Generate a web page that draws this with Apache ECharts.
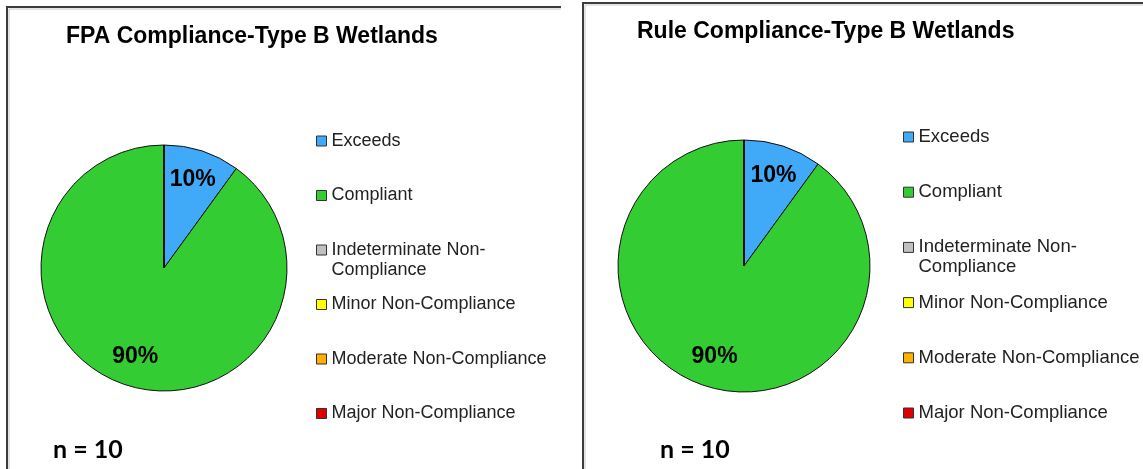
<!DOCTYPE html>
<html>
<head>
<meta charset="utf-8">
<script src="https://cdn.jsdelivr.net/npm/echarts@6/dist/echarts.min.js"></script>
<style>
  html, body { margin: 0; padding: 0; background: #fff; }
  #chart { width: 1143px; height: 469px; }
</style>
</head>
<body>
<div id="chart"></div>
<script>
// categories + values (counts out of n = 10)
const categories = ['Exceeds', 'Compliant', 'Indeterminate Non-Compliance', 'Minor Non-Compliance', 'Moderate Non-Compliance', 'Major Non-Compliance'];
const legendLabels = ['Exceeds', 'Compliant', 'Indeterminate Non-\nCompliance', 'Minor Non-Compliance', 'Moderate Non-Compliance', 'Major Non-Compliance'];
const colors = ['#40a9f8', '#33cc33', '#c0c0c0', '#ffff00', '#ffb000', '#e00000'];
const fpaValues = [1, 9, 0, 0, 0, 0];
const ruleValues = [1, 9, 0, 0, 0, 0];
const chartTitles = ['FPA Compliance-Type B Wetlands', 'Rule Compliance-Type B Wetlands'];
const sampleSizes = [10, 10];

// layout of the two panels
const panels = [
  { values: fpaValues, center: [164, 268], r: 123, titleX: 66, titleY: 25, legX: 316, legY: 141, legStep: 54.5, legFont: 18, nX: 53, box: [7, 7, 561] },
  { values: ruleValues, center: [744, 266], r: 126, titleX: 637, titleY: 20, legX: 903, legY: 137, legStep: 55.2, legFont: 18.5, nX: 660, box: [583, 3, 1143] }
];

const FONT = '"Liberation Sans", Arial, sans-serif';

function pctLabel(p){
  return p.value ? Math.round(p.percent) + '%' : '';
}

const titles = [], legends = [], series = [], graphics = [];

panels.forEach(function(p, k){
  titles.push({
    text: chartTitles[k],
    left: p.titleX,
    top: p.titleY,
    padding: 0,
    textStyle: { fontFamily: FONT, fontWeight: 'bold', fontSize: 23, color: '#000' }
  });

  // one legend per entry so the symbols keep an even step like the original
  categories.forEach(function(name, i){
    const wrapped = legendLabels[i].indexOf('\n') >= 0;
    legends.push({
      data: [name],
      orient: 'vertical',
      left: p.legX,
      top: p.legY + i * p.legStep - (wrapped ? 30 : 10),
      padding: 0,
      icon: 'rect',
      itemWidth: 10,
      itemHeight: 10,
      selectedMode: false,
      itemStyle: { borderColor: '#333', borderWidth: 1 },
      formatter: function(){ return wrapped ? '\n' + legendLabels[i] : legendLabels[i]; },
      textStyle: { fontFamily: FONT, fontSize: p.legFont, color: '#222', lineHeight: 20 }
    });
  });

  const data = categories.map(function(name, i){
    return { name: name, value: p.values[i], itemStyle: { color: colors[i] } };
  });

  series.push({
    type: 'pie',
    center: p.center,
    radius: p.r,
    startAngle: 90,
    clockwise: true,
    label: { show: false },
    labelLine: { show: false },
    emphasis: { disabled: true },
    itemStyle: { borderColor: '#111', borderWidth: 1 },
    data: data
  });
  // transparent ring only used to place the percentage labels further out
  series.push({
    type: 'pie',
    center: p.center,
    radius: [p.r * 0.464, p.r],
    startAngle: 90,
    clockwise: true,
    silent: true,
    emphasis: { disabled: true },
    itemStyle: { color: 'rgba(0,0,0,0)', borderWidth: 0 },
    labelLine: { show: false },
    label: {
      show: true,
      position: 'inside',
      formatter: pctLabel,
      fontFamily: FONT,
      fontWeight: 'bold',
      fontSize: 23,
      color: '#000'
    },
    data: categories.map(function(name, i){ return { name: name, value: p.values[i] }; })
  });

  const b = p.box;
  graphics.push({
    type: 'polyline', silent: true,
    shape: { points: [[b[0] + 2, 469], [b[0] + 2, b[1] + 2], [b[2], b[1] + 2]] },
    style: { stroke: '#c8c8c8', lineWidth: 1, fill: null }
  });
  graphics.push({
    type: 'polyline', silent: true,
    shape: { points: [[b[0], 469], [b[0], b[1]], [b[2], b[1]]] },
    style: { stroke: '#3c3c3c', lineWidth: 2, fill: null }
  });
  graphics.push({
    type: 'text', silent: true,
    x: p.nX, y: 450,
    style: { text: 'n = ' + sampleSizes[k], font: 'bold 25px Lato, sans-serif', fill: '#000', verticalAlign: 'middle' }
  });
});

const chart = echarts.init(document.getElementById('chart'));
chart.setOption({
  animation: false,
  backgroundColor: '#fff',
  title: titles,
  legend: legends,
  series: series,
  graphic: graphics
});
</script>
</body>
</html>
